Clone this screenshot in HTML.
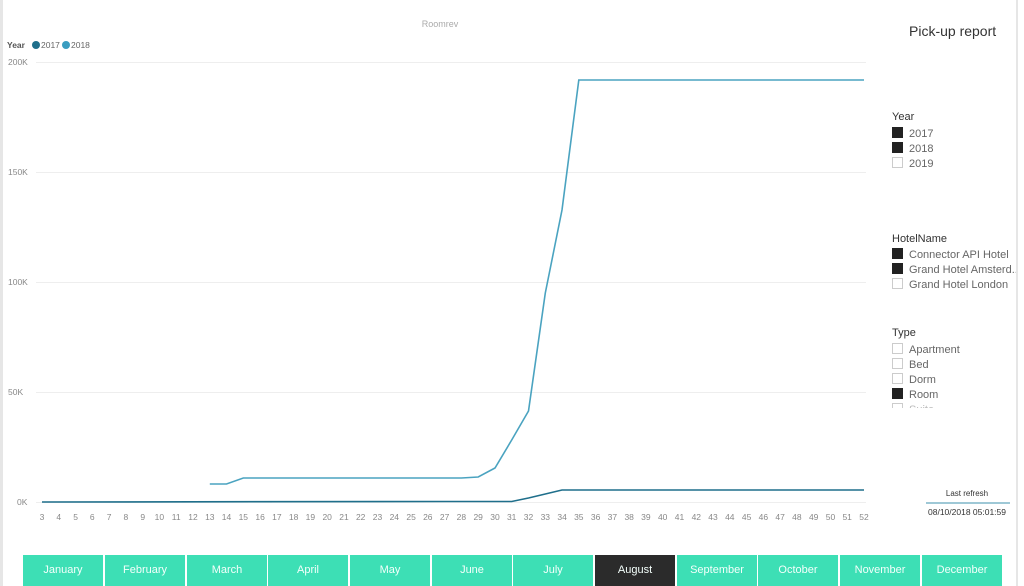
<!DOCTYPE html>
<html><head><meta charset="utf-8"><style>
body{margin:0;width:1024px;height:586px;background:#fff;font-family:"Liberation Sans",sans-serif;position:relative;overflow:hidden}
.b{position:absolute;top:555px;height:31px;width:80px;background:#3ddfb5;color:#f4fffb;font-size:11px;text-align:center;line-height:31px;font-weight:normal}
.sl{position:absolute;left:892px;font-size:11px;color:#333}
.it{position:absolute;left:892px;font-size:11px;color:#666;width:124px;white-space:nowrap;overflow:hidden}
.it i{display:inline-block;width:9px;height:9px;border:1px solid #ccc;margin-right:6px;vertical-align:-1px}
.it i.f{background:#222;border-color:#222}
</style></head><body>
<div style="position:absolute;left:0;top:0;width:3px;height:586px;background:#e6e6e6"></div>
<div style="position:absolute;left:1016px;top:0;width:2px;height:586px;background:#e6e6e6"></div>
<svg width="1024" height="586" style="position:absolute;left:0;top:0" font-family="Liberation Sans, sans-serif">
<text x="440" y="27" font-size="9" fill="#aaa" text-anchor="middle">Roomrev</text>
<text x="7" y="48" font-size="8.5" fill="#555" font-weight="bold">Year</text>
<circle cx="36" cy="45" r="4" fill="#1f6f8b"/><text x="41" y="48" font-size="8.5" fill="#666">2017</text>
<circle cx="66" cy="45" r="4" fill="#3a9dc0"/><text x="71" y="48" font-size="8.5" fill="#666">2018</text>
<g stroke="#eee" stroke-width="1">
<line x1="36" y1="62.5" x2="866" y2="62.5"/><line x1="36" y1="172.5" x2="866" y2="172.5"/><line x1="36" y1="282.5" x2="866" y2="282.5"/><line x1="36" y1="392.5" x2="866" y2="392.5"/>
</g>
<g font-size="8.5" fill="#888">
<text x="8" y="65">200K</text><text x="8" y="175">150K</text><text x="8" y="285">100K</text><text x="8" y="395">50K</text><text x="17" y="505">0K</text>
</g>
<line x1="36" y1="502.5" x2="866" y2="502.5" stroke="#eee"/>
<g font-size="8.5" fill="#888" text-anchor="middle" id="ticks"></g>
<polyline fill="none" stroke="#1f6f8b" stroke-width="1.6" points="42,502 444.6,501.5 511.7,501.5 528.5,498 545.3,494 562,490 864,490"/>
<polyline fill="none" stroke="#4aa3c0" stroke-width="1.6" points="209.8,484 226.5,484 243.3,478 461.4,478 478.2,477 495,468 511.7,440 528.5,411 545.3,293 562,210 578.8,80 864,80"/>
<text x="967" y="496" font-size="8" fill="#333" text-anchor="middle">Last refresh</text>
<line x1="926" y1="503" x2="1010" y2="503" stroke="#7fb6c8" stroke-width="1.5"/>
<text x="967" y="515" font-size="8.5" fill="#333" text-anchor="middle">08/10/2018 05:01:59</text>
</svg>
<div style="position:absolute;left:909px;top:23px;font-size:14px;color:#333">Pick-up report</div>
<div class="sl" style="top:111px">Year</div>
<div class="it" style="top:127px"><i class="f"></i>2017</div>
<div class="it" style="top:142px"><i class="f"></i>2018</div>
<div class="it" style="top:157px"><i></i>2019</div>
<div class="sl" style="top:233px">HotelName</div>
<div class="it" style="top:248px"><i class="f"></i>Connector API Hotel</div>
<div class="it" style="top:263px"><i class="f"></i>Grand Hotel Amsterd...</div>
<div class="it" style="top:278px"><i></i>Grand Hotel London</div>
<div class="sl" style="top:327px">Type</div>
<div class="it" style="top:343px"><i></i>Apartment</div>
<div class="it" style="top:358px"><i></i>Bed</div>
<div class="it" style="top:373px"><i></i>Dorm</div>
<div class="it" style="top:388px"><i class="f"></i>Room</div>
<div class="it" style="top:403px;height:5px;color:#bbb"><i></i>Suite</div>
<div class="b" style="left:23px">January</div>
<div class="b" style="left:105px">February</div>
<div class="b" style="left:187px">March</div>
<div class="b" style="left:268px">April</div>
<div class="b" style="left:350px">May</div>
<div class="b" style="left:432px">June</div>
<div class="b" style="left:513px">July</div>
<div class="b" style="left:595px;background:#2b2b2b">August</div>
<div class="b" style="left:677px">September</div>
<div class="b" style="left:758px">October</div>
<div class="b" style="left:840px">November</div>
<div class="b" style="left:922px">December</div>
<script>
var g=document.getElementById('ticks'),s='';
for(var w=3;w<=52;w++){s+='<text x="'+(42+(w-3)*16.776).toFixed(1)+'" y="520">'+w+'</text>';}
g.innerHTML=s;
</script>
</body></html>
